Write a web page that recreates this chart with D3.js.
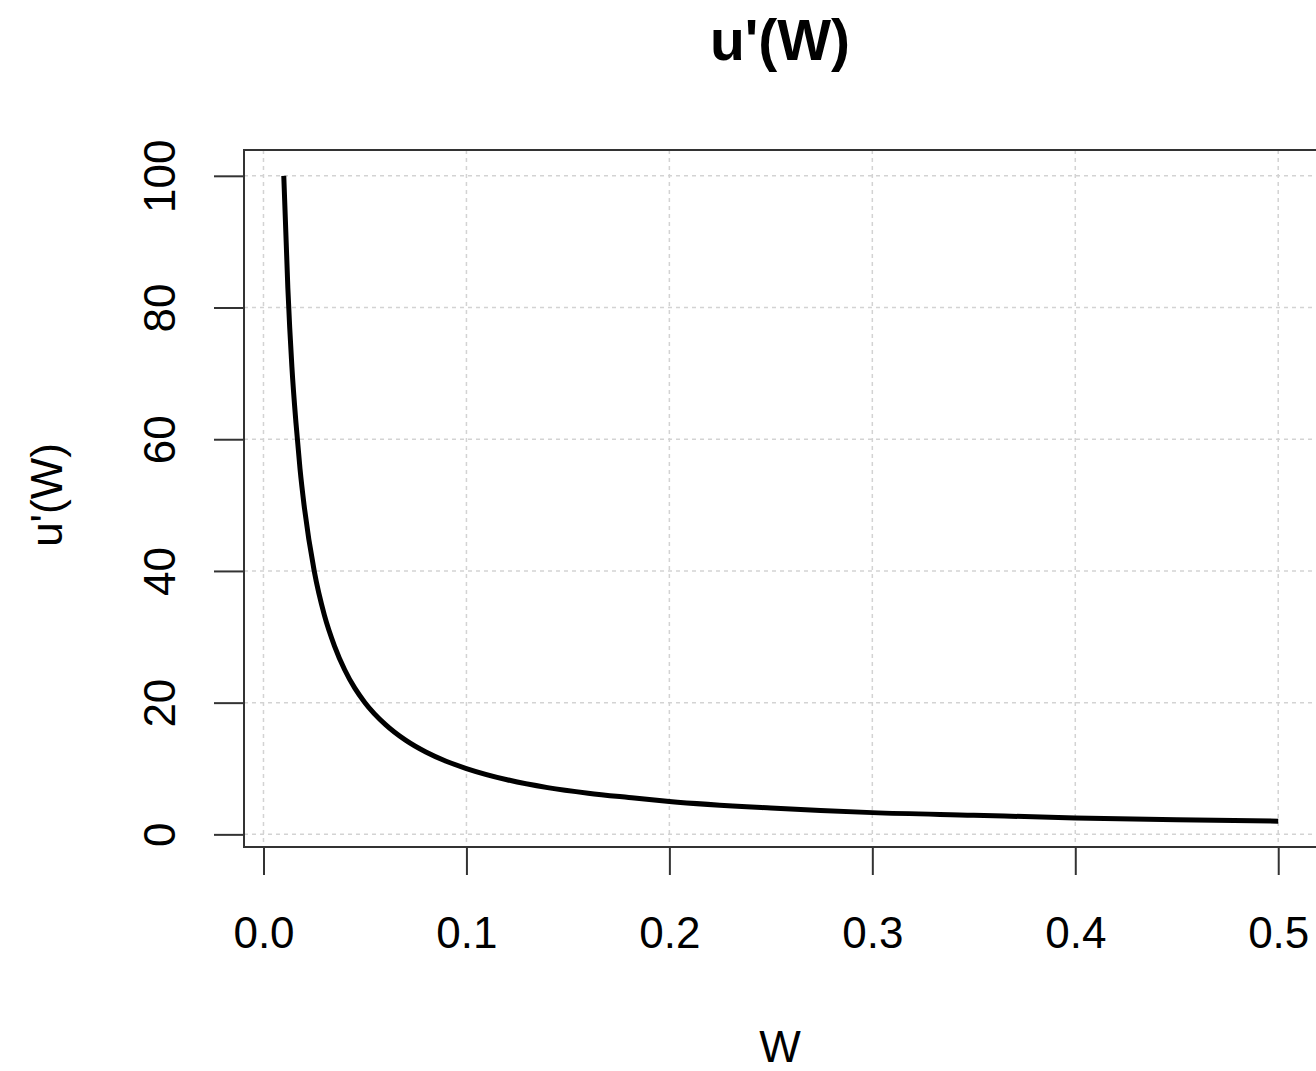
<!DOCTYPE html>
<html>
<head>
<meta charset="utf-8">
<script src="https://cdn.jsdelivr.net/npm/d3@7"></script>
<style>
  body { margin: 0; background: #fff; }
  text { font-family: "Liberation Sans", Arial, sans-serif; }
</style>
</head>
<body>
<div id="chart"></div>
<script>
// values
const wValues = [0.01, 0.012, 0.014, 0.016, 0.018, 0.02, 0.025, 0.03, 0.035, 0.04, 0.045, 0.05,
    0.06, 0.07, 0.08, 0.09, 0.1, 0.12, 0.14, 0.16, 0.18, 0.2, 0.25, 0.3, 0.35, 0.4, 0.45, 0.5];
const uValues = [100, 83, 71, 62.5, 55.5, 50, 40, 33.3, 28.6, 25, 22.2, 20,
    16.7, 14.3, 12.5, 11.1, 10, 8.3, 7.1, 6.25, 5.6, 5, 4, 3.3, 2.9, 2.5, 2.2, 2];
const xTicks = [0.0, 0.1, 0.2, 0.3, 0.4, 0.5];
const yTicks = [0, 20, 40, 60, 80, 100];

const width = 1316;
const height = 1071;

const plot = { left: 244, top: 150, right: 1318, bottom: 847 };

const svg = d3.select("#chart").append("svg")
    .attr("width", width)
    .attr("height", height);

const x = d3.scaleLinear()
    .domain([0.01 - 0.04 * 0.49, 0.5 + 0.04 * 0.49])
    .range([plot.left, plot.right]);

const y = d3.scaleLinear()
    .domain([2 - 0.04 * 98, 100 + 0.04 * 98])
    .range([plot.bottom, plot.top]);

// grid
svg.append("g")
    .selectAll("line")
    .data(xTicks)
    .enter().append("line")
    .attr("x1", d => x(d)).attr("x2", d => x(d))
    .attr("y1", plot.top).attr("y2", plot.bottom)
    .style("stroke", "#d3d3d3")
    .style("stroke-width", 1.5)
    .style("stroke-dasharray", "4,4");

svg.append("g")
    .selectAll("line")
    .data(yTicks)
    .enter().append("line")
    .attr("x1", plot.left).attr("x2", plot.right)
    .attr("y1", d => y(d)).attr("y2", d => y(d))
    .style("stroke", "#d3d3d3")
    .style("stroke-width", 1.5)
    .style("stroke-dasharray", "4,4");

// curve
const points = wValues.map((w, i) => [w, uValues[i]]);
const line = d3.line()
    .x(d => x(d[0]))
    .y(d => y(d[1]))
    .curve(d3.curveMonotoneX);

svg.append("path")
    .datum(points)
    .attr("d", line)
    .style("fill", "none")
    .style("stroke", "#000")
    .style("stroke-width", 5);

// box
svg.append("rect")
    .attr("x", plot.left)
    .attr("y", plot.top)
    .attr("width", plot.right - plot.left)
    .attr("height", plot.bottom - plot.top)
    .style("fill", "none")
    .style("stroke", "#333")
    .style("stroke-width", 2);

// axes
const xAxis = d3.axisBottom(x)
    .tickValues(xTicks)
    .tickSize(28)
    .tickPadding(42)
    .tickFormat(d3.format(".1f"));

const gx = svg.append("g")
    .attr("transform", `translate(0, ${plot.bottom})`)
    .call(xAxis);
gx.select(".domain").remove();
gx.selectAll("line").style("stroke", "#333").style("stroke-width", 2);
gx.selectAll("text")
    .style("font-size", "44px")
    .style("fill", "#000");

const yAxis = d3.axisLeft(y)
    .tickValues(yTicks)
    .tickSize(30);

const gy = svg.append("g")
    .attr("transform", `translate(${plot.left}, 0)`)
    .call(yAxis);
gy.select(".domain").remove();
gy.selectAll("line").style("stroke", "#333").style("stroke-width", 2);
gy.selectAll("text")
    .attr("x", null)
    .attr("dy", null)
    .attr("transform", "translate(-69, 0) rotate(-90)")
    .attr("text-anchor", "middle")
    .style("font-size", "44px")
    .style("fill", "#000");

// labels
svg.append("text")
    .attr("x", 780)
    .attr("y", 60)
    .attr("text-anchor", "middle")
    .style("font-size", "57px")
    .style("font-weight", "bold")
    .text("u'(W)");

svg.append("text")
    .attr("x", 780)
    .attr("y", 1062)
    .attr("text-anchor", "middle")
    .style("font-size", "44px")
    .text("W");

svg.append("text")
    .attr("transform", "translate(62, 495) rotate(-90)")
    .attr("text-anchor", "middle")
    .style("font-size", "44px")
    .text("u'(W)");
</script>
</body>
</html>
